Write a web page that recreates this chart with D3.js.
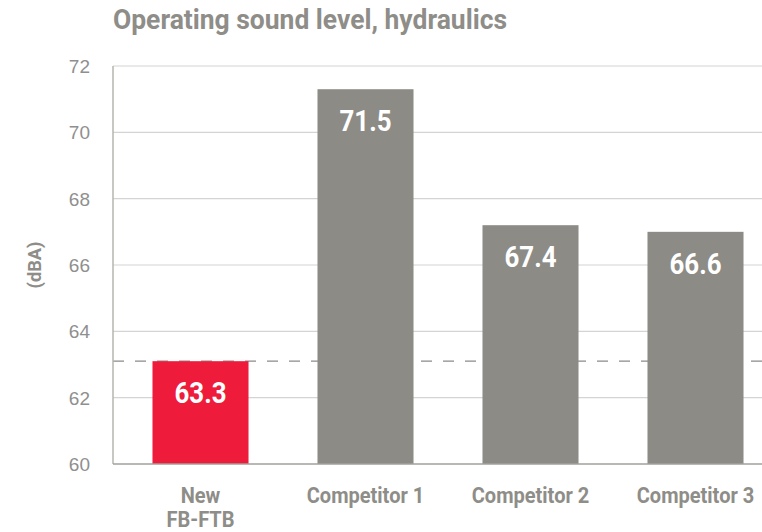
<!DOCTYPE html>
<meta charset="utf-8">
<style>
body { margin: 0; background: #ffffff; }
.grid line { stroke: #d4d4d4; stroke-width: 1.2px; }
.tick-label { font-family: "Liberation Sans", Arial, sans-serif; font-size: 19px; fill: #8f8f8f; }
.cond { font-family: Roboto, "Liberation Sans", sans-serif; font-weight: 700; }
</style>
<body>
<svg id="chart"></svg>
<script src="https://d3js.org/d3.v7.min.js"></script>
<script>
// data
var categories = ["New|FB-FTB", "Competitor 1", "Competitor 2", "Competitor 3"];
var barValues = [63.1, 71.3, 67.2, 67.0];        // bar heights as drawn
var barLabels = ["63.3", "71.5", "67.4", "66.6"]; // printed values
var barColors = ["#ee1b3a", "#8c8b86", "#8c8b86", "#8c8b86"];
var yTicks = [60, 62, 64, 66, 68, 70, 72];
var refValue = 63.1; // dashed reference line

var width = 762, height = 532;
var plotLeft = 113, plotTop = 66, plotBottom = 464, plotRight = 762;

var svg = d3.select("#chart").attr("width", width).attr("height", height);

var y = d3.scaleLinear().domain([60, 72]).range([plotBottom, plotTop]);
var x = d3.scaleBand().domain(categories).range([118, 778]).paddingInner(0.418).paddingOuter(0.209);

// squeeze a text horizontally to look condensed
function condense(sel, f) {
  sel.each(function() {
    var len = this.getComputedTextLength();
    d3.select(this).attr("textLength", len * f).attr("lengthAdjust", "spacingAndGlyphs");
  });
}

// title
svg.append("text")
  .attr("class", "cond")
  .attr("x", 113).attr("y", 29)
  .attr("textLength", 394).attr("lengthAdjust", "spacingAndGlyphs")
  .style("font-size", "27px").style("fill", "#8e8d88")
  .text("Operating sound level, hydraulics");

// gridlines
svg.append("g").attr("class", "grid")
  .selectAll("line").data(yTicks.filter(function(d) { return d > 60; }))
  .enter().append("line")
  .attr("x1", plotLeft).attr("x2", plotRight)
  .attr("y1", function(d) { return y(d); }).attr("y2", function(d) { return y(d); });

// tick labels
svg.append("g").selectAll("text").data(yTicks)
  .enter().append("text")
  .attr("class", "tick-label")
  .attr("x", 90).attr("y", function(d) { return y(d); })
  .attr("dy", "0.36em").attr("text-anchor", "end")
  .text(function(d) { return d; });

// y label
svg.append("text")
  .attr("class", "cond")
  .attr("transform", "translate(41," + y(66) + ") rotate(-90)")
  .attr("text-anchor", "middle")
  .attr("textLength", 47).attr("lengthAdjust", "spacingAndGlyphs")
  .style("font-size", "19px").style("fill", "#8e8d88")
  .text("(dBA)");

// dashed reference
svg.append("line")
  .attr("x1", plotLeft).attr("x2", plotRight)
  .attr("y1", y(refValue)).attr("y2", y(refValue))
  .style("stroke", "#8a8a8a").style("stroke-width", 1.2)
  .style("stroke-dasharray", "11,11");

// bars
svg.append("g").selectAll("rect").data(categories)
  .enter().append("rect")
  .attr("x", function(d) { return x(d); })
  .attr("width", x.bandwidth())
  .attr("y", function(d, i) { return y(barValues[i]); })
  .attr("height", function(d, i) { return plotBottom - y(barValues[i]); })
  .style("fill", function(d, i) { return barColors[i]; });

// bar labels
svg.append("g").selectAll("text").data(categories)
  .enter().append("text")
  .attr("class", "cond")
  .attr("x", function(d) { return x(d) + x.bandwidth() / 2; })
  .attr("y", function(d, i) { return y(barValues[i]) + 42; })
  .attr("text-anchor", "middle")
  .attr("textLength", 52).attr("lengthAdjust", "spacingAndGlyphs")
  .style("font-size", "29px").style("fill", "#ffffff")
  .text(function(d, i) { return barLabels[i]; });

// axis lines
svg.append("line").attr("x1", plotLeft).attr("x2", plotLeft).attr("y1", plotTop).attr("y2", plotBottom)
  .style("stroke", "#b4b4b0").style("stroke-width", 1.5);
svg.append("line").attr("x1", plotLeft).attr("x2", plotRight).attr("y1", plotBottom).attr("y2", plotBottom)
  .style("stroke", "#a0a09c").style("stroke-width", 1.5);

// category labels
var cat = svg.append("g").selectAll("text").data(categories)
  .enter().append("text")
  .attr("class", "cond")
  .attr("text-anchor", "middle")
  .style("font-size", "22px").style("fill", "#8e8d88");
cat.each(function(d) {
  var t = d3.select(this);
  var cx = x(d) + x.bandwidth() / 2;
  d.split("|").forEach(function(line, j) {
    t.append("tspan").attr("x", cx).attr("y", 503 + j * 24).text(line);
  });
});
condense(cat.selectAll("tspan"), 0.91);
</script>
</body>
